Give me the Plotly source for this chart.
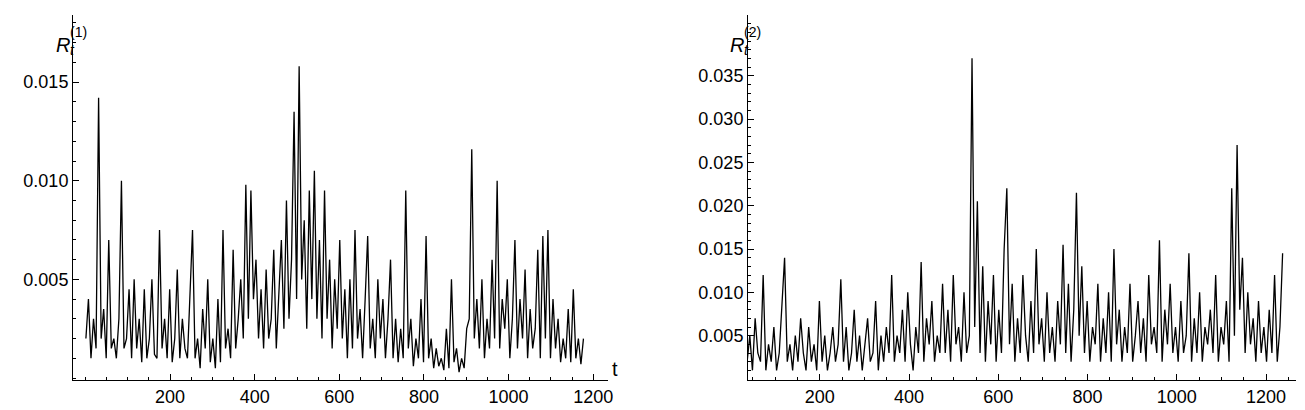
import plotly.graph_objects as go

# left panel: R_t^(1), sampled every 6 steps, values in units of 1e-3
t1_start, t1_step = 1, 6
r1 = [2, 4, 1, 3, 1.5, 14.2, 2, 3.5, 1, 7, 1.5, 2, 1, 3, 10, 1.5, 2, 4.5, 1, 5,
      1.5, 3, 0.8, 4.5, 1, 2, 5, 1.2, 1, 7.5, 1.5, 3, 1, 4.5, 0.8, 2, 5.5, 1, 3, 1.5,
      1, 4, 7.5, 1, 2, 0.5, 3.5, 1.5, 5, 0.8, 2, 0.5, 4, 0.8, 7.5, 1.5, 2.5, 1, 6.5, 1.5,
      3, 5, 2, 9.8, 3, 9.5, 4, 6, 2, 4.5, 1.5, 5.5, 2, 3, 6.5, 1.5, 4, 7, 2.5, 9,
      3, 6, 13.5, 4, 15.8, 5, 8, 2.5, 9.5, 4, 10.5, 3, 7, 2, 9.5, 3, 6, 1.5, 5, 2.5,
      7, 2, 4.5, 1, 5, 1.5, 7.5, 2, 3.5, 1, 4, 7.2, 1.5, 3, 1, 5, 2, 4, 1, 3,
      6, 1, 3, 0.8, 2.5, 1, 9.5, 1.5, 3, 0.6, 2, 1, 4, 0.8, 7.2, 1, 2, 0.5, 1.5, 0.6,
      1, 0.4, 2.5, 0.5, 5, 0.8, 1.5, 0.3, 1, 0.5, 2.5, 3, 11.6, 2, 4, 1.5, 5, 1, 3, 1.5,
      6, 2, 10, 1.5, 4, 2.5, 5, 1, 3, 7, 1.5, 4, 2, 5.5, 1, 3.5, 1.5, 2.5, 6.5, 1,
      7.2, 2, 7.5, 1, 4, 1.5, 3, 0.8, 2, 1, 3.5, 0.8, 4.5, 1, 2, 0.7, 2]

# right panel: R_t^(2)
t2_start, t2_step = 1, 6
r2 = [6, 2, 4, 1, 13, 3, 2, 5, 1, 7, 3, 2, 12, 1, 4, 2, 6, 1, 3, 8,
      14, 2, 4, 1, 5, 2, 7, 3, 1, 6, 2, 4, 1, 9, 2, 5, 1, 3, 6, 2,
      4, 11.5, 2, 6, 1, 3, 8, 2, 5, 1, 4, 7, 2, 3, 9, 1, 5, 2, 6, 3,
      12, 2, 5, 3, 8, 2, 10, 4, 1, 6, 3, 13.5, 2, 7, 4, 9, 2, 5, 3, 11,
      3, 8, 2, 12, 4, 6, 2, 10, 3, 5, 37, 6, 20.5, 3, 13, 2, 9, 4, 12, 2,
      8, 3, 15, 22, 4, 11, 2, 7, 3, 12, 5, 2, 9, 3, 15, 4, 7, 2, 10, 3,
      6, 2, 9, 4, 15.5, 3, 11, 2, 8, 21.5, 5, 13, 3, 9, 2, 6, 4, 11, 2, 7,
      3, 10, 2, 15, 4, 8, 2, 6, 3, 11, 2, 5, 9, 3, 7, 2, 12, 4, 6, 3,
      16, 2, 8, 4, 11, 3, 6, 2, 9, 3, 5, 14.5, 2, 7, 3, 10, 2, 6, 4, 8,
      3, 12, 2, 6, 4, 9, 2, 22, 5, 27, 8, 14, 3, 10, 4, 7, 2, 9, 3, 6,
      2, 8, 3, 12, 2, 6, 14.5]

x_ticks = [200, 400, 600, 800, 1000, 1200]
y1_ticks = [0.005, 0.010, 0.015]
y2_ticks = [0.005, 0.010, 0.015, 0.020, 0.025, 0.030, 0.035]

W, H = 1305, 410
t1 = [t1_start + i * t1_step for i in range(len(r1))]
t2 = [t2_start + i * t2_step for i in range(len(r2))]

fig = go.Figure()
fig.add_trace(go.Scatter(x=t1, y=[v / 1000 for v in r1], mode="lines",
                         line=dict(color="black", width=1.3), xaxis="x", yaxis="y"))
fig.add_trace(go.Scatter(x=t2, y=[v / 1000 for v in r2], mode="lines",
                         line=dict(color="black", width=1.3), xaxis="x2", yaxis="y2"))

font = dict(family="Liberation Sans, Arial", size=18, color="black")
lab_font = dict(family="Liberation Sans, Arial", size=20, color="black")
minor = dict(ticks="inside", ticklen=3, tickcolor="black")
ax = dict(showgrid=False, zeroline=False, showline=True, linecolor="black", linewidth=1,
          ticks="inside", ticklen=6, tickcolor="black", tickfont=font, automargin=False)

fig.update_layout(
    width=W, height=H, margin=dict(l=0, r=0, t=0, b=0),
    paper_bgcolor="white", plot_bgcolor="white", showlegend=False,
    xaxis=dict(ax, domain=[65 / W, 600 / W], range=[-29.5, 1235], tickvals=x_ticks,
               anchor="y", minor=dict(minor, dtick=50)),
    yaxis=dict(ax, domain=[38 / H, 403 / H], range=[-0.0001, 0.0184], tickvals=y1_ticks,
               tickformat=".3f", anchor="x", minor=dict(minor, dtick=0.001)),
    xaxis2=dict(ax, domain=[740 / W, 1288 / W], range=[39, 1267], tickvals=x_ticks,
                anchor="y2", minor=dict(minor, dtick=50)),
    yaxis2=dict(ax, domain=[38 / H, 403 / H], range=[-0.000115, 0.042], tickvals=y2_ticks,
                tickformat=".3f", anchor="x2", minor=dict(minor, dtick=0.001)),
)

for x0, num in [(46, 1), (720, 2)]:
    fig.add_annotation(text="<i>R</i>", xref="paper", yref="paper",
                       x=x0 / W, y=1 - 24 / H, showarrow=False, xanchor="left", font=lab_font)
    fig.add_annotation(text="<i>t</i>", xref="paper", yref="paper",
                       x=(x0 + 14) / W, y=1 - 32 / H, showarrow=False, xanchor="left",
                       font=dict(lab_font, size=14))
    fig.add_annotation(text=f"({num})", xref="paper", yref="paper",
                       x=(x0 + 14) / W, y=1 - 14 / H, showarrow=False, xanchor="left",
                       font=dict(lab_font, size=14))
fig.add_annotation(text="t", xref="paper", yref="paper", x=607 / W, y=1 - 374 / H,
                   showarrow=False, xanchor="center", font=lab_font)
fig.add_annotation(text="t", xref="paper", yref="paper", x=1299 / W, y=1 - 378 / H,
                   showarrow=False, xanchor="center", font=lab_font)

fig.write_html("out.html")
